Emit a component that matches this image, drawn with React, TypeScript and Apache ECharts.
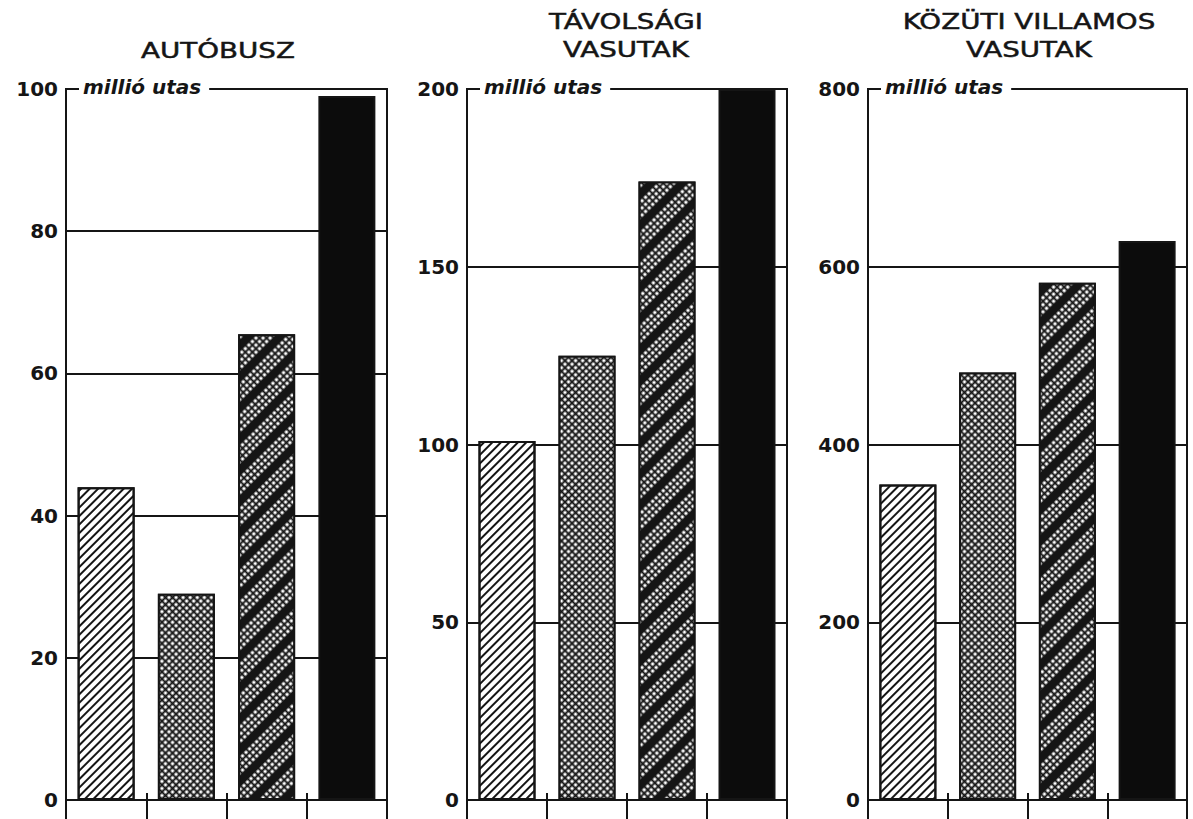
import React, { useEffect, useRef } from 'react';
import * as echarts from 'echarts';

// ---- data ----
const categories = ['I', 'II', 'III', 'IV'];
const panelTitles = ['AUTÓBUSZ', 'TÁVOLSÁGI\nVASUTAK', 'KÖZÜTI VILLAMOS\nVASUTAK'];
const unitLabel = 'millió utas';
const busValues = [44, 29, 65.5, 99];
const railValues = [101, 125, 174, 200];
const tramValues = [355, 481, 582, 629];
const axisMax = [100, 200, 800];
const axisInterval = [20, 50, 200];

const panelValues = [busValues, railValues, tramValues];

// ---- layout / style ----
const INK = '#151515';
const gridBoxes = [
  { left: 66, top: 89, width: 321, height: 711 },
  { left: 467, top: 89, width: 320, height: 711 },
  { left: 868, top: 89, width: 319, height: 711 },
];
const titlePos = [
  { x: 218, y: 51 },
  { x: 626, y: 36 },
  { x: 1029, y: 36 },
];

const barStyles: any[] = [
  {
    color: '#ffffff',
    decal: {
      symbol: 'rect', symbolSize: 1,
      dashArrayX: [[6, 0]], dashArrayY: [2, 4],
      rotation: -Math.PI / 4, color: INK,
    },
  },
  {
    color: INK,
    decal: {
      symbol: 'rect', symbolSize: 0.76,
      dashArrayX: [4, 1], dashArrayY: [4, 1],
      rotation: -Math.PI / 4, color: '#ffffff',
    },
  },
  {
    color: INK,
    decal: {
      symbol: 'rect', symbolSize: 0.76,
      dashArrayX: [4, 1], dashArrayY: [4, 1, 4, 1, 4, 8],
      rotation: -Math.PI / 4, color: '#ffffff',
    },
  },
  { color: '#0c0c0c' },
];

const FONT = '"DejaVu Sans", "Noto Sans", sans-serif';

export default function App() {
  const ref = useRef<HTMLDivElement>(null);

  useEffect(() => {
    if (!ref.current) return;
    const chart = echarts.init(ref.current, undefined, { renderer: 'svg' });

    const grids = gridBoxes.map((g) => ({
      ...g,
      show: true,
      borderColor: INK,
      borderWidth: 2,
      backgroundColor: 'transparent',
      containLabel: false,
    }));

    const xAxes: any[] = [];
    gridBoxes.forEach((_, i) => {
      xAxes.push({
        type: 'category',
        gridIndex: i,
        data: categories,
        position: 'bottom',
        boundaryGap: true,
        axisLine: { show: true, lineStyle: { color: INK, width: 2 } },
        axisTick: { show: true, length: 20, lineStyle: { color: INK, width: 2 } },
        axisLabel: { show: false },
        splitLine: { show: false },
      });
    });
    gridBoxes.forEach((_, i) => {
      xAxes.push({
        type: 'category',
        gridIndex: i,
        data: categories,
        position: 'bottom',
        boundaryGap: true,
        axisLine: { show: false },
        axisTick: { show: true, inside: true, length: 7, lineStyle: { color: INK, width: 2 } },
        axisLabel: { show: false },
        splitLine: { show: false },
      });
    });

    const yAxes = gridBoxes.map((_, i) => ({
      type: 'value',
      gridIndex: i,
      min: 0,
      max: axisMax[i],
      interval: axisInterval[i],
      axisLine: { show: true, lineStyle: { color: INK, width: 2 } },
      axisTick: { show: false },
      axisLabel: {
        color: INK,
        fontFamily: FONT,
        fontWeight: 'bold',
        fontSize: 20,
        margin: 8,
      },
      splitLine: { show: true, lineStyle: { color: INK, width: 2 } },
    }));

    const series = panelValues.map((vals, i) => ({
      type: 'bar',
      xAxisIndex: i,
      yAxisIndex: i,
      barWidth: 57,
      data: vals.map((v, j) => ({
        value: v,
        itemStyle: {
          ...barStyles[j],
          borderColor: INK,
          borderWidth: 2,
        },
      })),
    }));

    const graphics: any[] = [];
    panelTitles.forEach((t, i) => {
      graphics.push({
        type: 'text',
        x: titlePos[i].x,
        y: titlePos[i].y,
        scaleX: 1.26,
        z: 100,
        style: {
          text: t,
          font: `normal 22px ${FONT}`,
          fill: INK,
          stroke: INK,
          lineWidth: 0.5,
          align: 'center',
          verticalAlign: 'middle',
          lineHeight: 28,
        },
      });
    });
    gridBoxes.forEach((g, i) => {
      graphics.push({
        type: 'text',
        x: g.left + 13,
        y: g.top - 2,
        z: 100,
        style: {
          text: unitLabel,
          font: `italic bold 20px ${FONT}`,
          fill: INK,
          align: 'left',
          verticalAlign: 'middle',
          backgroundColor: '#ffffff',
          padding: [3, 8, 3, 4],
        },
      });
    });

    chart.setOption({
      animation: false,
      backgroundColor: '#ffffff',
      grid: grids,
      xAxis: xAxes,
      yAxis: yAxes,
      series,
      graphic: graphics,
    });

    return () => {
      chart.dispose();
    };
  }, []);

  return (
    <div
      ref={ref}
      style={{ position: 'fixed', left: 0, top: 0, width: 1193, height: 819 }}
    />
  );
}
